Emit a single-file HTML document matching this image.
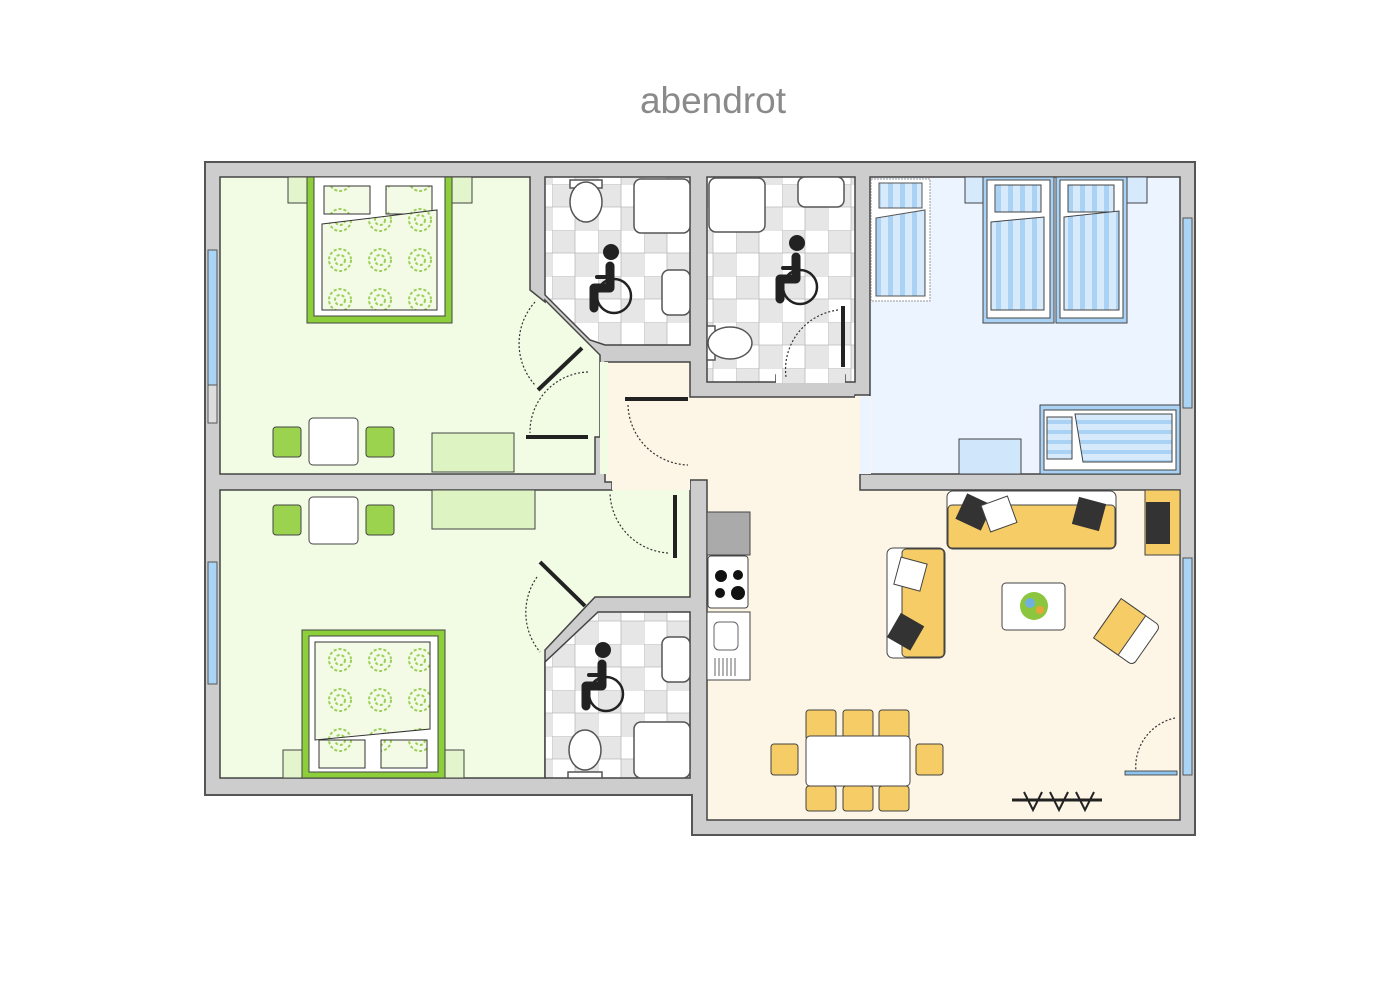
<!DOCTYPE html>
<html><head><meta charset="utf-8"><style>html,body{margin:0;padding:0;background:#fff}svg{display:block}</style></head><body>
<svg width="1400" height="1000" viewBox="0 0 1400 1000" xmlns="http://www.w3.org/2000/svg">
<defs>
<pattern id="tile" x="0" y="0" width="46" height="46" patternUnits="userSpaceOnUse">
<rect width="46" height="46" fill="#fff"/>
<rect width="23" height="23" fill="#e6e6e6"/><rect x="23" y="23" width="23" height="23" fill="#e6e6e6"/>
<path d="M0 0H46M0 23H46M0 0V46M23 0V46" stroke="#bbb" stroke-width="0.8"/>
</pattern>
<pattern id="stripe" width="12" height="10" patternUnits="userSpaceOnUse"><rect width="12" height="10" fill="#d6eafc"/><rect width="5" height="10" fill="#a9d2f5"/></pattern>
<pattern id="hstripe" width="10" height="10" patternUnits="userSpaceOnUse"><rect width="10" height="10" fill="#d6eafc"/><rect width="10" height="4" fill="#a9d2f5"/></pattern>
<pattern id="swirl" width="40" height="40" patternUnits="userSpaceOnUse"><rect width="40" height="40" fill="#f3fbe6"/><circle cx="20" cy="20" r="11" fill="none" stroke="#9ccf5a" stroke-width="2" stroke-dasharray="3 2"/><circle cx="20" cy="20" r="5" fill="none" stroke="#9ccf5a" stroke-width="2" stroke-dasharray="3 2"/></pattern>
</defs>
<text x="713" y="113" text-anchor="middle" font-family="Liberation Sans, sans-serif" font-size="37" fill="#8a8a8a">abendrot</text>

<path d="M205 162H1195V835H692V795H205Z" fill="#cdcdcd" stroke="#555" stroke-width="2"/>

<g stroke="#444" stroke-width="1.5">
<path d="M220 177H530V290L545 302V300L600 355V437H595V474H220Z" fill="#f2fbe4"/>
<path d="M220 490H612V482H690V597H595L545 650V778H220Z" fill="#f2fbe4"/>
<path d="M605 362H690V397H855V395H870V474H860V490H1180V820H707V480H690V482H605Z" fill="#fdf6e6"/>
<path d="M870 177H1180V474H870Z" fill="#ebf4ff"/>
<path d="M545 177H690V345H605L590 340L545 295Z" fill="url(#tile)"/>
<path d="M707 177H855V382H845V375H776V382H707Z" fill="url(#tile)"/>
<path d="M598 612H690V778H545V662Z" fill="url(#tile)"/>
</g>
<rect x="776" y="374" width="69" height="9" fill="url(#tile)"/>
<rect x="600" y="362" width="8" height="112" fill="#f2fbe4"/>
<rect x="855" y="396" width="16" height="78" fill="#fdf6e6"/>
<rect x="860" y="396" width="10" height="78" fill="#ebf4ff"/>
<rect x="612" y="474" width="78" height="16" fill="#fdf6e6"/>

<g fill="#a9d4f5" stroke="#555" stroke-width="1">
<rect x="208" y="250" width="9" height="135"/><rect x="208" y="385" width="9" height="38" fill="#ddd"/>
<rect x="208" y="562" width="9" height="122"/>
<rect x="1183" y="218" width="9" height="190"/>
<rect x="1183" y="558" width="9" height="217"/>
</g>

<rect x="288" y="177" width="20" height="26" fill="#e3f5cc" stroke="#444"/><rect x="452" y="177" width="20" height="26" fill="#e3f5cc" stroke="#444"/>
<rect x="307" y="177" width="145" height="146" fill="#8ccf3a" stroke="#444"/>
<rect x="314" y="177" width="131" height="139" fill="#fff" stroke="#444"/>
<rect x="324" y="186" width="46" height="28" fill="url(#swirl)" stroke="#333"/>
<rect x="386" y="186" width="46" height="28" fill="url(#swirl)" stroke="#333"/>
<path d="M322 224L437 210V310H322Z" fill="url(#swirl)" stroke="#333"/>
<rect x="273" y="427" width="28" height="30" rx="3" fill="#9bd34f" stroke="#444"/>
<rect x="309" y="418" width="49" height="47" rx="4" fill="#fff" stroke="#444"/>
<rect x="366" y="427" width="28" height="30" rx="3" fill="#9bd34f" stroke="#444"/>
<rect x="432" y="433" width="82" height="39" fill="#ddf3c2" stroke="#444"/>
<rect x="273" y="505" width="28" height="30" rx="3" fill="#9bd34f" stroke="#444"/>
<rect x="309" y="497" width="49" height="47" rx="4" fill="#fff" stroke="#444"/>
<rect x="366" y="505" width="28" height="30" rx="3" fill="#9bd34f" stroke="#444"/>
<rect x="432" y="490" width="103" height="39" fill="#ddf3c2" stroke="#444"/>
<rect x="283" y="750" width="20" height="28" fill="#e3f5cc" stroke="#444"/><rect x="444" y="750" width="20" height="28" fill="#e3f5cc" stroke="#444"/>
<rect x="302" y="630" width="143" height="148" fill="#8ccf3a" stroke="#444"/>
<rect x="309" y="636" width="129" height="136" fill="#fff" stroke="#444"/>
<path d="M315 642H430V729L315 740Z" fill="url(#swirl)" stroke="#333"/>
<rect x="319" y="740" width="46" height="28" fill="url(#swirl)" stroke="#333"/>
<rect x="381" y="740" width="46" height="28" fill="url(#swirl)" stroke="#333"/>

<g stroke="#222" stroke-width="4">
<line x1="538" y1="390" x2="582" y2="348"/><line x1="526" y1="437" x2="588" y2="437"/>
<line x1="625" y1="399" x2="688" y2="399"/><line x1="675" y1="495" x2="675" y2="558"/>
<line x1="540" y1="562" x2="585" y2="606"/><line x1="843" y1="306" x2="843" y2="367"/>
</g>
<g fill="none" stroke="#333" stroke-width="1.2" stroke-dasharray="2 2">
<path d="M535 302A62 62 0 0 0 535 385"/><path d="M588 372A60 60 0 0 0 530 433"/>
<path d="M628 405A62 62 0 0 0 688 465"/><path d="M668 553A62 62 0 0 1 610 493"/>
<path d="M537 577A62 62 0 0 0 540 652"/><path d="M838 310A60 60 0 0 0 786 377"/>
<path d="M1175 718A50 50 0 0 0 1136 772"/>
</g>
<rect x="1125" y="771" width="52" height="4" fill="#8fc3ec" stroke="#333" stroke-width="0.8"/>

<g fill="#fff" stroke="#555" stroke-width="1.5">
<rect x="570" y="180" width="32" height="8"/><ellipse cx="586" cy="202" rx="16" ry="20"/>
<rect x="634" y="179" width="56" height="54" rx="7"/>
<rect x="662" y="270" width="28" height="45" rx="7"/>
<rect x="709" y="178" width="56" height="54" rx="7"/>
<rect x="798" y="177" width="46" height="30" rx="7"/>
<rect x="707" y="326" width="8" height="34"/><ellipse cx="730" cy="343" rx="22" ry="16"/>
<rect x="662" y="637" width="28" height="45" rx="7"/>
<rect x="568" y="772" width="34" height="6"/><ellipse cx="585" cy="750" rx="16" ry="20"/>
<rect x="634" y="722" width="56" height="56" rx="7"/>
</g>
<g id="wc">
<circle cx="611" cy="252" r="8" fill="#222"/>
<path d="M610 266V288H594V308" fill="none" stroke="#222" stroke-width="9" stroke-linecap="round" stroke-linejoin="round"/>
<line x1="597" y1="277" x2="608" y2="277" stroke="#222" stroke-width="4" stroke-linecap="round"/>
<circle cx="614" cy="296" r="17" fill="none" stroke="#222" stroke-width="2.5"/>
</g>
<use href="#wc" x="186" y="-9"/>
<use href="#wc" x="-8" y="398"/>

<rect x="871" y="179" width="59" height="122" fill="#fff" stroke="#999" stroke-dasharray="2 1"/>
<rect x="879" y="183" width="43" height="25" fill="url(#stripe)" stroke="#555"/>
<path d="M876 218L925 210V296H876Z" fill="url(#stripe)" stroke="#555"/>
<rect x="965" y="177" width="20" height="26" fill="#d6eafc" stroke="#444"/><rect x="1127" y="177" width="20" height="26" fill="#d6eafc" stroke="#444"/>
<rect x="983" y="177" width="71" height="146" fill="#a9d2f5" stroke="#444"/>
<rect x="1056" y="177" width="71" height="146" fill="#a9d2f5" stroke="#444"/>
<rect x="987" y="180" width="63" height="138" fill="#fff" stroke="#444"/>
<rect x="1060" y="180" width="63" height="138" fill="#fff" stroke="#444"/>
<rect x="995" y="185" width="46" height="27" fill="url(#stripe)" stroke="#444"/>
<rect x="1068" y="185" width="46" height="27" fill="url(#stripe)" stroke="#444"/>
<path d="M991 222L1044 217V310H991Z" fill="url(#stripe)" stroke="#444"/>
<path d="M1064 217L1119 211V310H1064Z" fill="url(#stripe)" stroke="#444"/>
<rect x="959" y="439" width="62" height="35" fill="#cfe6fb" stroke="#444"/>
<rect x="1040" y="405" width="140" height="69" fill="#a9d2f5" stroke="#444"/>
<rect x="1044" y="410" width="132" height="60" fill="#fff" stroke="#444"/>
<rect x="1047" y="417" width="25" height="42" fill="url(#hstripe)" stroke="#444"/>
<path d="M1075 414H1172V462H1083Z" fill="url(#hstripe)" stroke="#444"/>

<rect x="707" y="512" width="43" height="43" fill="#aaa" stroke="#444"/>
<rect x="708" y="556" width="40" height="52" rx="3" fill="#fff" stroke="#444"/>
<g fill="#111"><circle cx="721" cy="576" r="6"/><circle cx="738" cy="575" r="5"/><circle cx="720" cy="593" r="5"/><circle cx="738" cy="593" r="7"/></g>
<rect x="707" y="612" width="43" height="68" fill="#fff" stroke="#444"/>
<rect x="714" y="622" width="24" height="28" rx="5" fill="#fff" stroke="#666"/>
<path d="M715 658v18M719 658v18M723 658v18M727 658v18M731 658v18M735 658v18" stroke="#666"/>

<rect x="947" y="491" width="169" height="58" rx="6" fill="#fff" stroke="#444"/>
<rect x="948" y="505" width="167" height="43" rx="4" fill="#f5cc66" stroke="#444"/>
<rect x="960" y="498" width="28" height="28" fill="#333" transform="rotate(25 974 512)"/>
<rect x="985" y="500" width="28" height="28" fill="#fff" stroke="#444" transform="rotate(-20 999 514)"/>
<rect x="1075" y="500" width="28" height="28" fill="#333" transform="rotate(15 1089 514)"/>
<rect x="1145" y="490" width="35" height="65" fill="#f5cc66" stroke="#444"/>
<rect x="1146" y="502" width="24" height="42" fill="#333"/>
<rect x="887" y="548" width="58" height="110" rx="6" fill="#fff" stroke="#444"/>
<rect x="902" y="549" width="42" height="108" rx="4" fill="#f5cc66" stroke="#444"/>
<rect x="897" y="560" width="27" height="28" fill="#fff" stroke="#444" transform="rotate(15 910 574)"/>
<rect x="892" y="618" width="27" height="28" fill="#333" transform="rotate(30 906 632)"/>
<rect x="1002" y="583" width="63" height="47" rx="4" fill="#fff" stroke="#444"/>
<circle cx="1034" cy="606" r="14" fill="#8cc63f"/><circle cx="1030" cy="603" r="5" fill="#6fb0e0"/><circle cx="1040" cy="610" r="4" fill="#e8a33a"/>
<g transform="rotate(35 1127 632)"><rect x="1103" y="608" width="48" height="48" rx="5" fill="#fff" stroke="#444"/><rect x="1103" y="608" width="30" height="48" fill="#f5cc66" stroke="#444"/></g>
<g fill="#f5cc66" stroke="#444">
<rect x="806" y="710" width="30" height="30" rx="3"/><rect x="843" y="710" width="30" height="30" rx="3"/><rect x="879" y="710" width="30" height="30" rx="3"/>
<rect x="806" y="786" width="30" height="25" rx="3"/><rect x="843" y="786" width="30" height="25" rx="3"/><rect x="879" y="786" width="30" height="25" rx="3"/>
<rect x="771" y="744" width="27" height="31" rx="3"/><rect x="916" y="744" width="27" height="31" rx="3"/>
</g>
<rect x="806" y="736" width="104" height="50" rx="4" fill="#fff" stroke="#444"/>
<g stroke="#222" stroke-width="3"><line x1="1012" y1="800" x2="1102" y2="800"/><path d="M1024 792l9 18l9-18M1050 792l9 18l9-18M1076 792l9 18l9-18" fill="none" stroke-width="2"/></g>
</svg>
</body></html>
